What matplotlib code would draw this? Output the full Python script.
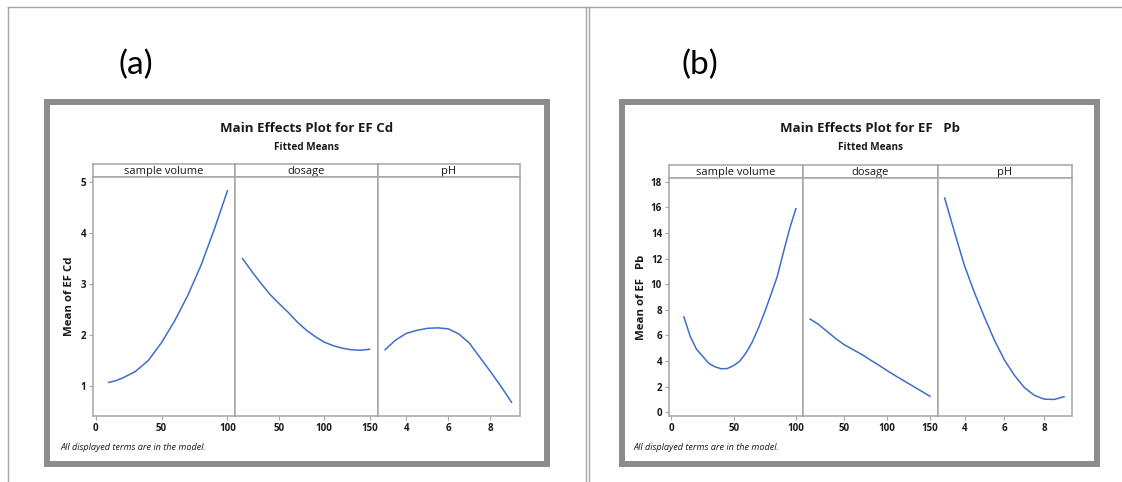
import matplotlib.pyplot as plt
from matplotlib.patches import Rectangle
from matplotlib.lines import Line2D

W, H = 1122, 482

# (a) EF Cd - fitted means
cd_volume_x = [10, 15, 20, 30, 40, 50, 60, 70, 80, 90, 100]
cd_volume_y = [1.07, 1.1, 1.15, 1.28, 1.5, 1.85, 2.28, 2.78, 3.37, 4.07, 4.83]
cd_dosage_x = [10, 20, 30, 40, 50, 60, 70, 80, 90, 100, 110, 120, 130, 140, 150]
cd_dosage_y = [3.5, 3.25, 3.02, 2.8, 2.62, 2.45, 2.26, 2.1, 1.97, 1.86, 1.79, 1.74, 1.71, 1.70, 1.72]
cd_ph_x = [3, 3.5, 4, 4.5, 5, 5.5, 6, 6.5, 7, 7.5, 8, 8.5, 9]
cd_ph_y = [1.71, 1.9, 2.03, 2.09, 2.13, 2.14, 2.12, 2.02, 1.84, 1.56, 1.28, 0.99, 0.68]

# (b) EF Pb
pb_volume_x = [10, 15, 20, 25, 30, 35, 40, 45, 50, 55, 60, 65, 70, 75, 80, 85, 90, 95, 100]
pb_volume_y = [7.45, 5.95, 4.94, 4.38, 3.82, 3.55, 3.4, 3.42, 3.65, 4.0, 4.65, 5.5, 6.6, 7.85, 9.2, 10.6, 12.5, 14.35, 15.9]
pb_dosage_x = [10, 20, 30, 40, 50, 60, 70, 80, 90, 100, 110, 120, 130, 140, 150]
pb_dosage_y = [7.28, 6.85, 6.3, 5.75, 5.27, 4.9, 4.53, 4.1, 3.69, 3.25, 2.84, 2.44, 2.05, 1.65, 1.25]
pb_ph_x = [3, 3.5, 4, 4.5, 5, 5.5, 6, 6.5, 7, 7.5, 8, 8.5, 9]
pb_ph_y = [16.74, 14.05, 11.44, 9.34, 7.43, 5.64, 4.1, 2.9, 1.94, 1.33, 1.03, 1.0, 1.22]

factors = ['sample volume', 'dosage', 'pH']
x_ticks = [[0, 50, 100], [50, 100, 150], [4, 6, 8]]
x_lims = [(-2, 106), (2, 159), (2.65, 9.4)]

plt.rcParams['font.family'] = ['Open Sans', 'DejaVu Sans']

fig = plt.figure(figsize=(W / 100, H / 100), dpi=100)

def box(x0, y0, x1, y1):
    # pixel box (top-left origin) -> figure rect
    return [x0 / W, 1 - y1 / H, (x1 - x0) / W, (y1 - y0) / H]

def fx(x):
    return x / W

def fy(y):
    return 1 - y / H

# outer table lines
line_kw = dict(color='#a6a6a6', lw=1, transform=fig.transFigure)
fig.add_artist(Line2D([fx(8), 1], [fy(7), fy(7)], **line_kw))
fig.add_artist(Line2D([fx(8), fx(8)], [fy(7), 0], **line_kw))
fig.add_artist(Line2D([fx(586), fx(586)], [fy(7), 0], **line_kw))
fig.add_artist(Line2D([fx(589), fx(589)], [fy(7), 0], **line_kw))

fig.text(fx(136), fy(65), '(a)', fontsize=24, family='Lato', ha='center', va='center')
fig.text(fx(700), fy(65), '(b)', fontsize=24, family='Lato', ha='center', va='center')

charts = [
    dict(frame=(47, 102, 547, 464), area=(93, 164, 520, 177, 416),
         title='Main Effects Plot for EF Cd', ylabel='Mean of EF Cd', ylab_x=69,
         xs=[cd_volume_x, cd_dosage_x, cd_ph_x], ys=[cd_volume_y, cd_dosage_y, cd_ph_y],
         yticks=[1, 2, 3, 4, 5], ylim=(0.41, 5.1), note_x=61),
    dict(frame=(622, 102, 1097, 464), area=(669, 165, 1072, 178, 416),
         title='Main Effects Plot for EF   Pb', ylabel='Mean of EF   Pb', ylab_x=641,
         xs=[pb_volume_x, pb_dosage_x, pb_ph_x], ys=[pb_volume_y, pb_dosage_y, pb_ph_y],
         yticks=list(range(0, 19, 2)), ylim=(-0.29, 18.3), note_x=634),
]

for c in charts:
    x0, y0, x1, y1 = c['frame']
    fig.add_artist(Rectangle((fx(x0), fy(y1)), (x1 - x0) / W, (y1 - y0) / H,
                             transform=fig.transFigure, fill=False,
                             edgecolor='#8c8c8c', lw=4.3))
    left, top, right, strip_bottom, bottom = c['area']
    mid = (left + right) / 2
    fig.text(fx(mid), fy(129), c['title'], fontsize=9.5, fontweight='bold',
             ha='center', va='center', color='#1a1a1a')
    fig.text(fx(mid), fy(147), 'Fitted Means', fontsize=7.2, fontweight='bold',
             ha='center', va='center', color='#1a1a1a')
    fig.text(fx(c['ylab_x']), fy((strip_bottom + bottom) / 2), c['ylabel'],
             fontsize=8.2, fontweight='bold', rotation=90, ha='center', va='center',
             color='#1a1a1a')
    fig.text(fx(c['note_x']), fy(448), 'All displayed terms are in the model.',
             fontsize=6.6, style='italic', ha='left', va='center', color='#1a1a1a')

    pw = (right - left) / 3
    for i in range(3):
        px0 = left + i * pw
        strip = fig.add_axes(box(px0, top, px0 + pw, strip_bottom))
        strip.set_xticks([])
        strip.set_yticks([])
        strip.text(0.5, 0.45, factors[i], fontsize=8, ha='center', va='center',
                   transform=strip.transAxes, color='#1a1a1a')
        ax = fig.add_axes(box(px0, strip_bottom, px0 + pw, bottom))
        for a in (strip, ax):
            for s in a.spines.values():
                s.set_color('#a6a6a6')
                s.set_linewidth(1.1)
        ax.plot(c['xs'][i], c['ys'][i], color='#3e6ec8', lw=1.1)
        ax.set_xlim(x_lims[i])
        ax.set_ylim(c['ylim'])
        ax.set_xticks(x_ticks[i])
        if i == 0:
            ax.set_yticks(c['yticks'])
        else:
            ax.set_yticks([])
        ax.tick_params(axis='both', length=3, width=0.8, color='#a6a6a6',
                       labelsize=7, labelcolor='#1a1a1a', pad=2)
        for lab in ax.get_xticklabels() + ax.get_yticklabels():
            lab.set_fontweight('bold')

fig.savefig('out.png', dpi=100)
